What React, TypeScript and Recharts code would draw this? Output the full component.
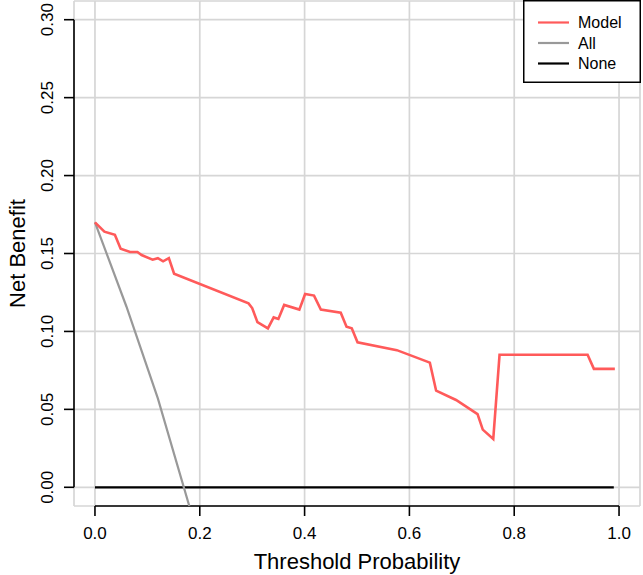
import React from "react";
import { LineChart, Line, XAxis, YAxis, CartesianGrid, ReferenceLine, Legend, Label } from "recharts";

const modelX = [0, 0.018, 0.038, 0.049, 0.067, 0.081, 0.089, 0.110, 0.120, 0.130, 0.141, 0.151, 0.293, 0.300, 0.310, 0.330, 0.341, 0.350, 0.361, 0.390, 0.401, 0.418, 0.431, 0.469, 0.480, 0.490, 0.501, 0.576, 0.639, 0.651, 0.689, 0.730, 0.740, 0.760, 0.772, 0.940, 0.952, 0.992];
const modelY = [0.170, 0.164, 0.162, 0.153, 0.151, 0.151, 0.149, 0.146, 0.147, 0.145, 0.147, 0.137, 0.118, 0.115, 0.106, 0.102, 0.109, 0.108, 0.117, 0.114, 0.124, 0.123, 0.114, 0.112, 0.103, 0.102, 0.093, 0.088, 0.080, 0.062, 0.056, 0.047, 0.037, 0.031, 0.085, 0.085, 0.076, 0.076];

const allX = [0, 0.06, 0.12, 0.18];
const allY = [0.170, 0.116, 0.057, -0.012];

const noneX = [0, 0.99];
const noneY = [0, 0];

const xTicks = [0, 0.2, 0.4, 0.6, 0.8, 1.0];
const yTicks = [0, 0.05, 0.1, 0.15, 0.2, 0.25, 0.3];

const seriesNames = ["Model", "All", "None"];
const seriesColors = ["#FF5A5A", "#999999", "#000000"];

const xDomain = [-0.04, 1.04];
const yDomain = [-0.012, 0.312];

const modelData = modelX.map((x, i) => ({ x, y: modelY[i] }));
const allData = allX.map((x, i) => ({ x, y: allY[i] }));
const noneData = noneX.map((x, i) => ({ x, y: noneY[i] }));

const FONT = "'Liberation Sans', Arial, Helvetica, sans-serif";

const YTick = (props: any) => {
  const { x, y, payload } = props;
  return (
    <text transform={`translate(${x},${y}) rotate(-90)`} textAnchor="middle" dy="0.355em" fontSize={17} fill="#000" fontFamily={FONT}>
      {Number(payload.value).toFixed(2)}
    </text>
  );
};

const XTick = (props: any) => {
  const { x, y, payload } = props;
  return (
    <text x={x} y={y} textAnchor="middle" dy="0.72em" fontSize={17} fill="#000" fontFamily={FONT}>
      {Number(payload.value).toFixed(1)}
    </text>
  );
};

const LegendBox = (props: any) => {
  const payload = (props.payload || []).slice().sort(
    (a: any, b: any) => seriesNames.indexOf(a.value) - seriesNames.indexOf(b.value)
  );
  return (
    <svg width={118} height={83} style={{ display: "block" }}>
      <rect x={0.75} y={0.75} width={116.5} height={81.5} fill="#fff" stroke="#000" strokeWidth={1.5} />
      {payload.map((p: any, i: number) => {
        const cy = 22.5 + i * 20.5;
        return (
          <g key={p.value}>
            <line x1={15} x2={46} y1={cy} y2={cy} stroke={p.color} strokeWidth={2.2} />
            <text x={55} y={cy} dy="0.355em" fontSize={16} fontFamily={FONT} fill="#000">{p.value}</text>
          </g>
        );
      })}
    </svg>
  );
};

export default function App() {
  return (
    <div style={{ position: "absolute", left: 0, top: 0, fontFamily: FONT, background: "#fff" }}>
      <LineChart width={643} height={575} margin={{ top: 1, right: 3, left: 0, bottom: 0 }}>
        <CartesianGrid stroke="#D6D6D6" strokeWidth={1.7} />
        <XAxis
          type="number"
          dataKey="x"
          domain={xDomain}
          ticks={xTicks}
          allowDataOverflow
          height={69}
          axisLine={false}
          tickSize={10}
          tickMargin={11}
          tickLine={{ stroke: "#000", strokeWidth: 1.6 }}
          tick={<XTick />}
          interval={0}
        >
          <Label
            content={(p: any) => {
              const vb = p.viewBox;
              return (
                <text x={vb.x + vb.width / 2} y={vb.y + 63} textAnchor="middle" fontSize={22} fontFamily={FONT} fill="#000">
                  Threshold Probability
                </text>
              );
            }}
          />
        </XAxis>
        <YAxis
          type="number"
          dataKey="y"
          domain={yDomain}
          ticks={yTicks}
          allowDataOverflow
          width={74}
          axisLine={false}
          tickSize={10}
          tickMargin={17}
          tickLine={{ stroke: "#000", strokeWidth: 1.6 }}
          tick={<YTick />}
          interval={0}
        >
          <Label
            content={(p: any) => {
              const vb = p.viewBox;
              return (
                <text
                  transform={`translate(${vb.x + 17},${vb.y + vb.height / 2}) rotate(-90)`}
                  textAnchor="middle"
                  dy="0.355em"
                  fontSize={22}
                  fontFamily={FONT}
                  fill="#000"
                >
                  Net Benefit
                </text>
              );
            }}
          />
        </YAxis>
        <ReferenceLine segment={[{ x: 0, y: yDomain[0] }, { x: 1, y: yDomain[0] }]} stroke="#000" strokeWidth={1.6} ifOverflow="visible" />
        <ReferenceLine segment={[{ x: xDomain[0], y: 0 }, { x: xDomain[0], y: 0.3 }]} stroke="#000" strokeWidth={1.6} ifOverflow="visible" />
        <Line data={noneData} dataKey="y" name={seriesNames[2]} stroke={seriesColors[2]} strokeWidth={2.2} dot={false} isAnimationActive={false} />
        <Line data={allData} dataKey="y" name={seriesNames[1]} stroke={seriesColors[1]} strokeWidth={2.2} dot={false} isAnimationActive={false} />
        <Line data={modelData} dataKey="y" name={seriesNames[0]} stroke={seriesColors[0]} strokeWidth={2.6} dot={false} isAnimationActive={false} />
        <Legend
          layout="vertical"
          align="center"
          verticalAlign="middle"
          content={<LegendBox />}
          wrapperStyle={{ position: "absolute", left: 523, top: 0, width: 118, height: 83 }}
        />
      </LineChart>
    </div>
  );
}
